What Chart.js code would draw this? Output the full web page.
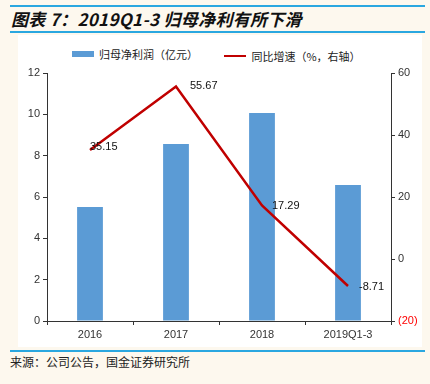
<!DOCTYPE html>
<html>
<head>
<meta charset="utf-8">
<script src="https://cdn.jsdelivr.net/npm/chart.js@4.4.1/dist/chart.umd.min.js"></script>
<style>
  html,body{margin:0;padding:0;}
  body{width:430px;height:384px;background:#FDF8EE;position:relative;overflow:hidden;font-family:"Noto Sans CJK SC",sans-serif;}
  .rule{position:absolute;left:10px;width:415px;height:2px;background:#2AA7E0;}
  #title{position:absolute;left:11px;top:6px;font-size:17px;font-weight:bold;font-style:italic;color:#111;white-space:nowrap;letter-spacing:0.3px;}
  #panel{position:absolute;left:18px;top:35px;width:404px;height:312px;background:#fff;}
  #src{position:absolute;left:10px;top:353px;font-size:12px;color:#222;white-space:nowrap;}
  #legend{position:absolute;top:44px;left:72px;font-size:11px;color:#222;white-space:nowrap;}
  #legend span.it{display:inline-flex;align-items:center;margin-right:24px;}
  #legend i{display:inline-block;width:22px;margin-right:5px;}
  canvas{position:absolute;left:18px;top:35px;}
</style>
</head>
<body>
<div class="rule" style="top:5px"></div>
<div id="title">图表 7：2019Q1-3 归母净利有所下滑</div>
<div class="rule" style="top:31px"></div>
<div id="panel"></div>
<div id="legend">
  <span class="it"><i style="height:6px;background:#5B9BD5"></i>归母净利润（亿元）</span>
  <span class="it"><i style="height:2px;background:#C00000"></i>同比增速（%，右轴）</span>
</div>
<canvas id="c" width="404" height="312"></canvas>
<div class="rule" style="top:350px"></div>
<div id="src">来源：公司公告，国金证券研究所</div>
<script>
const categories = ["2016","2017","2018","2019Q1-3"];
const netProfit = [5.52, 8.56, 10.06, 6.58];
const growth = [35.15, 55.67, 17.29, -8.71];
const growthLabels = ["35.15","55.67","17.29","-8.71"];
const labelShift = [[0,-3],[14,0],[10,1],[11,1]];

const C = { bar:"#5B9BD5", line:"#C00000", ink:"#333" };

const valueLabels = {
  id:"valueLabels",
  afterDatasetsDraw(chart){
    const meta = chart.getDatasetMeta(1);
    const ctx = chart.ctx;
    ctx.save();
    ctx.font = "11px 'Liberation Sans', Arial, sans-serif";
    ctx.fillStyle = "#111";
    ctx.textAlign = "left";
    ctx.textBaseline = "middle";
    meta.data.forEach((p,i)=>{
      ctx.fillText(growthLabels[i], p.x + labelShift[i][0], p.y + labelShift[i][1]);
    });
    ctx.restore();
  }
};

const tickFont = { family:"'Liberation Sans', Arial, sans-serif", size:11 };

new Chart(document.getElementById("c"), {
  type:"bar",
  data:{
    labels:categories,
    datasets:[
      { type:"bar", label:"归母净利润（亿元）", data:netProfit, backgroundColor:C.bar, yAxisID:"y",
        categoryPercentage:1, barPercentage:0.3, order:1 },
      { type:"line", label:"同比增速（%，右轴）", data:growth, borderColor:C.line, borderWidth:2.5,
        pointRadius:0, tension:0, yAxisID:"y1", order:0 }
    ]
  },
  plugins:[valueLabels],
  options:{
    responsive:false, animation:false,
    layout:{ padding:{ top:38, left:0, right:0, bottom:0 } },
    plugins:{ legend:{ display:false }, tooltip:{ enabled:false } },
    scales:{
      x:{
        offset:true,
        grid:{ offset:true, drawOnChartArea:false, drawTicks:true, tickLength:4, color:"#333" },
        border:{ color:"#333", width:1 },
        ticks:{ font:tickFont, color:C.ink, padding:3, maxRotation:0 },
        afterFit(s){ s.height = 26; }
      },
      y:{
        position:"left", min:0, max:12,
        ticks:{ stepSize:2, font:tickFont, color:C.ink, padding:3 },
        grid:{ drawOnChartArea:false, drawTicks:true, tickLength:4, color:"#333" },
        border:{ color:"#333", width:1 },
        afterFit(s){ s.width = 29; }
      },
      y1:{
        position:"right", min:-20, max:60,
        ticks:{ stepSize:20, font:tickFont, padding:3,
          color:(c)=> c.tick.value < 0 ? "#FF0000" : C.ink,
          callback:(v)=> v < 0 ? "(" + Math.abs(v) + ")" : v },
        grid:{ drawOnChartArea:false, drawTicks:true, tickLength:4, color:"#333" },
        border:{ color:"#333", width:1 },
        afterFit(s){ s.width = 31; }
      }
    }
  }
});
</script>
</body>
</html>
